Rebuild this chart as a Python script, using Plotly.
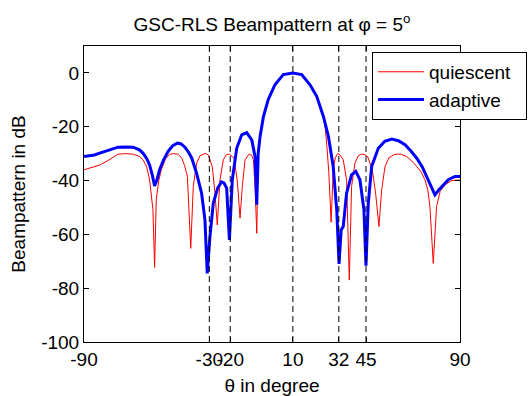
import plotly.graph_objects as go

# adaptive (GSC-RLS) beampattern, dB
adaptive_theta = [-90, -85, -82.5, -78, -73.7, -70, -66.5, -63.5, -61.8, -60, -58.6, -57.3, -56.2, -55, -53.8,
                  -52, -49.8, -47.5, -45.3, -43.5, -41.7, -40, -38.4, -36.1, -33.7, -32.1, -31, -29.7, -28.1,
                  -26, -24.2, -23, -21.7, -20.4, -19, -16.9, -14.5, -12.1, -9.7, -8.1, -7.3, -6.6, -5.7, -4.1,
                  -1.8, 1.4, 5.4, 10, 14.2, 18.2, 21.4, 24.6, 27, 29.3, 31, 32.1, 33.1, 34.1, 35.7, 38.1, 40.1,
                  42.1, 44, 45, 46.1, 47.7, 50.9, 54, 57.3, 60.5, 63.7, 66.5, 69.3, 72, 74.1, 76, 78, 79.8, 82,
                  84.4, 87.6, 90]
adaptive_db = [-31.1, -30.5, -29.8, -28.6, -27.6, -27.5, -27.6, -28.6, -29.8, -31.8, -34.2, -38, -42, -39.5, -36,
               -32.5, -29.2, -27, -26.1, -26.4, -27.6, -29.4, -31.7, -37.3, -44.7, -54.6, -74.5, -60.8, -48.4,
               -42.8, -40.5, -40.9, -42.8, -62.1, -39.7, -28, -23, -22.2, -24.9, -31.1, -49, -29.8, -23.6, -16.2,
               -9.9, -4.4, -0.6, 0, -0.6, -4.4, -8.7, -16.2, -23.6, -34.8, -51, -71, -58.4, -57.1, -44.7, -37.9,
               -36.6, -39.7, -50.8, -71.6, -48.4, -34.8, -28, -25.4, -24.6, -25.2, -26.7, -29, -31.7, -35, -38.5,
               -41.5, -45.3, -43.5, -41.5, -39.7, -38.5, -38.5]

# quiescent beampattern, dB
quiescent_theta = [-90, -86, -82.3, -78, -73.7, -70, -66.5, -63.5, -61.7, -60, -58.6, -57, -56.2, -55.4, -54.2,
                   -53, -51, -49, -47, -45, -43.2, -41.8, -40.5, -38.9, -37.7, -36.1, -34.5, -32.9, -31.5, -30.5,
                   -28.6, -27.3, -26.2, -24.9, -23.3, -21.8, -20.4, -18.1, -16.5, -15.3, -14.2, -12.9, -11, -9.7,
                   -8.9, -8.1, -7.3, -6.6, -5.7, -4.1, -1.8, 1.4, 5.4, 10, 14.2, 18.2, 21.4, 24.6, 25.5, 26.3,
                   27.2, 28.3, 29.3, 30.3, 31.4, 32.5, 34.1, 35.7, 37, 38.1, 39.7, 41.3, 42.9, 44.4, 45.8, 48,
                   49.6, 51.2, 52.5, 54.1, 56, 58.9, 61.5, 64.5, 67, 69.3, 71.5, 73.2, 74.6, 75.6, 77.2, 78.8,
                   80.5, 83, 86, 90]
quiescent_db = [-36, -35.2, -34.2, -32.3, -30.2, -30, -30.2, -31, -32.3, -35, -39.7, -50.8, -72.3, -47, -40,
                -36, -32, -30.2, -30, -30.2, -31.7, -34.5, -38.5, -65.2, -42.2, -33.6, -30.8, -30.2, -30, -30.5,
                -34.8, -44.7, -56.5, -39.7, -32.3, -30.4, -30.2, -31.7, -41, -54, -42.2, -32.3, -30.2, -30.6,
                -32.3, -42.2, -59.6, -29.8, -23.6, -16.2, -9.9, -4.4, -0.6, 0, -0.6, -4.4, -8.7, -16.2, -20.5,
                -27.5, -37, -55.5, -36, -31.5, -30, -30.4, -32.3, -39.7, -77, -42.2, -33.6, -30.8, -30.2, -30.4,
                -31.1, -36, -44.7, -57.1, -43.5, -34.8, -31.5, -30.2, -30.2, -31.1, -32.8, -34.8, -37, -39.7,
                -43.5, -49.6, -70.8, -49.6, -44, -41.5, -40, -39.8]

# marked directions (look direction and interferers)
marked_angles = [-30, -20, 10, 32, 45]
x_ticks = [-90, -30, -20, 10, 32, 45, 90]
y_ticks = [-100, -80, -60, -40, -20, 0]
series_names = ["quiescent", "adaptive"]

FONT = "Liberation Sans, Arial, sans-serif"
FS = 19
PAD = "\u00a0\u00a0"

fig = go.Figure()
fig.add_trace(go.Scatter(x=quiescent_theta, y=quiescent_db, mode="lines", name=series_names[0] + PAD,
                         line=dict(color="#ff0000", width=1)))
fig.add_trace(go.Scatter(x=adaptive_theta, y=adaptive_db, mode="lines", name=series_names[1] + PAD,
                         line=dict(color="#0000ff", width=3)))

for a in marked_angles:
    fig.add_shape(type="line", xref="x", yref="paper", x0=a, x1=a, y0=0, y1=1,
                  line=dict(color="black", width=1, dash="6px,4px"), layer="above")

axis_common = dict(showgrid=False, zeroline=False, showline=True, linecolor="black", linewidth=1,
                   mirror="ticks", ticks="inside", ticklen=5, tickcolor="black",
                   tickfont=dict(family=FONT, size=FS, color="black"))

fig.update_layout(
    width=529, height=396,
    margin=dict(l=84, r=69, t=46, b=54, autoexpand=False),
    paper_bgcolor="white", plot_bgcolor="white",
    font=dict(family=FONT, size=FS, color="black"),
    title=dict(text="GSC-RLS Beampattern at φ = 5<sup>o</sup>", x=0.5, xref="paper",
               y=1 - 24 / 396, yref="container", yanchor="middle",
               font=dict(family=FONT, size=FS, color="black")),
    xaxis=dict(range=[-90, 90], tickmode="array", tickvals=x_ticks, ticktext=[str(v) for v in x_ticks],
               tickangle=0, automargin=False, title=dict(text="θ in degree", standoff=12,
                                        font=dict(family=FONT, size=FS)), **axis_common),
    yaxis=dict(range=[-100, 10], tickmode="array", tickvals=y_ticks, ticktext=[str(v) for v in y_ticks],
               automargin=False,
               title=dict(text="Beampattern in dB", standoff=10, font=dict(family=FONT, size=FS)),
               **axis_common),
    legend=dict(x=0.766, y=0.98, xanchor="left", yanchor="top", bgcolor="white",
                bordercolor="black", borderwidth=1, font=dict(family=FONT, size=FS),
                tracegroupgap=0, itemwidth=46),
    showlegend=True,
)

fig.write_html("out.html")
